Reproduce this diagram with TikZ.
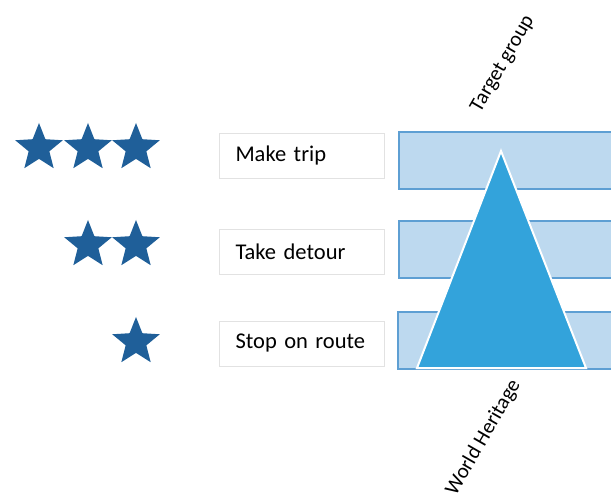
\documentclass[tikz,border=0pt]{standalone}
\usepackage{fontspec}
\setmainfont{Carlito}
\usepackage{tikz}
\usetikzlibrary{shapes.geometric,positioning}
\definecolor{stardark}{HTML}{1F5F99}
\definecolor{barfill}{HTML}{BDD9EF}
\definecolor{barline}{HTML}{5E9FD3}
\definecolor{pyramid}{HTML}{33A3DB}
\definecolor{boxline}{HTML}{E2E2E2}
\tikzset{rating/.style={star,star points=5,star point ratio=2.3,fill=stardark,inner sep=0pt,minimum size=50pt}}
\tikzset{level/.style={draw=boxline,fill=white,minimum width=165pt,minimum height=45pt,inner xsep=16.5pt,text width=132pt,align=left,font=\fontsize{22.5}{26}\selectfont}}
\tikzset{band/.style={draw=barline,fill=barfill,line width=1.2pt}}
\tikzset{axislabel/.style={rotate=60,font=\fontsize{21}{24}\selectfont,inner sep=0pt}}

\begin{document}
\begin{tikzpicture}[x=1pt,y=-1pt]
        \useasboundingbox (0,0) rectangle (611,497);
        \node [rating] (s31) at (39,148) {};
        \node [rating] (s32) at (88,148) {};
        \node [rating] (s33) at (136,148) {};
        \node [rating] (s21) at (88,245) {};
        \node [rating] (s22) at (136,245) {};
        \node [rating] (s11) at (136,342) {};
        \node [level] (trip) at (301.5,155.5) {Make trip};
        \node [level] (detour) at (301.5,251.5) {Take detour};
        \node [level] (stop) at (301.5,343.5) {Stop on route};
        \draw [band] (399,132) rectangle (616,189);
        \draw [band] (399,221) rectangle (616,278);
        \draw [band] (398,312) rectangle (616,369);
        \filldraw [fill=pyramid,draw=white,line width=2pt,line join=miter]
            (501,151) -- (586,368) -- (417,368) -- cycle;
        \node [axislabel] (target) at (503,64) {Target group};
        \node [axislabel,anchor=south east] (heritage) at (524,386) {World Heritage};
    \end{tikzpicture}
\end{document}
